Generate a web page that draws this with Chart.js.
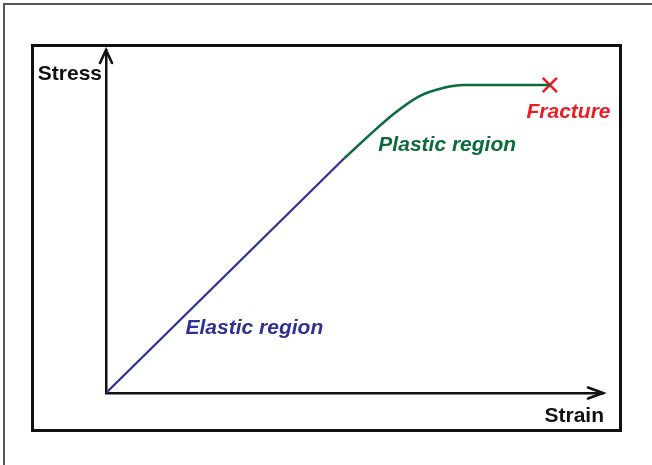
<!DOCTYPE html>
<html>
<head>
<meta charset="utf-8">
<script src="https://cdn.jsdelivr.net/npm/chart.js@4.4.1/dist/chart.umd.min.js"></script>
<style>
  html, body { margin: 0; padding: 0; background: #fff; }
  #page { position: relative; width: 652px; height: 465px; overflow: hidden; }
  #frame { position: absolute; left: 3px; top: 3px; width: 660px; height: 470px;
           border-top: 2px solid #555; border-left: 2px solid #555; }
  #box { position: absolute; left: 31px; top: 44px; width: 591px; height: 388px;
         box-sizing: border-box; border: 3px solid #111; }
  #chart { position: absolute; left: 0; top: 0; }
</style>
</head>
<body>
<div id="page">
  <div id="frame"></div>
  <div id="box"></div>
  <canvas id="chart" width="652" height="465"></canvas>
</div>
<script>
// strain / stress values (arbitrary units)
const elasticStrain = [0, 48];
const elasticStress = [0, 68.5];
const plasticStrain = [48, 54, 58, 63, 68, 72, 89.3];
const plasticStress = [68.5, 76.5, 81.5, 86.5, 89, 89.8, 89.8];
const fractureStrain = [89.3];
const fractureStress = [89.8];

const FONT = '"Liberation Sans", Arial, Helvetica, sans-serif';

function toPoints(xs, ys) {
    return xs.map(function (x, i) { return { x: x, y: ys[i] }; });
}

// arrow heads + text labels
const sketchPlugin = {
    id: 'sketch',
    afterDraw: function (chart) {
        const ctx = chart.ctx;
        const xs = chart.scales.x;
        const ys = chart.scales.y;
        const x0 = xs.getPixelForValue(0);
        const y0 = ys.getPixelForValue(0);
        const xEnd = xs.right;
        const yEnd = ys.top;

        ctx.save();
        ctx.strokeStyle = '#111';
        ctx.lineWidth = 2.6;
        ctx.lineCap = 'round';
        ctx.lineJoin = 'miter';
        // y arrow
        ctx.beginPath();
        ctx.moveTo(x0 - 6, yEnd + 13);
        ctx.lineTo(x0, yEnd);
        ctx.lineTo(x0 + 6, yEnd + 13);
        ctx.stroke();
        // x arrow
        ctx.beginPath();
        ctx.moveTo(xEnd - 15, y0 - 5.5);
        ctx.lineTo(xEnd, y0);
        ctx.lineTo(xEnd - 15, y0 + 5.5);
        ctx.stroke();

        ctx.textBaseline = 'middle';
        ctx.font = 'bold 21px ' + FONT;
        ctx.fillStyle = '#111';
        ctx.textAlign = 'right';
        ctx.fillText('Stress', x0 - 4, yEnd + 24);
        ctx.fillText('Strain', xEnd + 1, y0 + 23);

        ctx.font = 'italic bold 21px ' + FONT;
        ctx.textAlign = 'left';
        ctx.fillStyle = '#2e3192';
        ctx.fillText('Elastic region', xs.getPixelForValue(16), ys.getPixelForValue(19));
        ctx.fillStyle = '#0b6b3a';
        ctx.fillText('Plastic region', xs.getPixelForValue(54.8), ys.getPixelForValue(72.3));
        ctx.fillStyle = '#ec1c24';
        ctx.fillText('Fracture', xs.getPixelForValue(84.6), ys.getPixelForValue(82));
        ctx.restore();
    }
};

const ctx = document.getElementById('chart').getContext('2d');
const stressChart = new Chart(ctx, {
    type: 'scatter',
    data: {
        datasets: [{
            label: 'Elastic region',
            data: toPoints(elasticStrain, elasticStress),
            showLine: true,
            borderColor: '#2e3192',
            borderWidth: 2.2,
            pointRadius: 0
        }, {
            label: 'Plastic region',
            data: toPoints(plasticStrain, plasticStress),
            showLine: true,
            cubicInterpolationMode: 'monotone',
            borderColor: '#0b6b3a',
            borderWidth: 2.6,
            pointRadius: 0
        }, {
            label: 'Fracture',
            data: toPoints(fractureStrain, fractureStress),
            pointStyle: 'crossRot',
            pointRadius: 10,
            borderColor: '#ec1c24',
            borderWidth: 2.6
        }]
    },
    options: {
        responsive: false,
        animation: false,
        layout: {
            padding: { left: 106, top: 50, right: 49, bottom: 72 }
        },
        plugins: {
            legend: { display: false },
            tooltip: { enabled: false }
        },
        scales: {
            x: {
                type: 'linear',
                min: 0,
                max: 100,
                grid: { display: false, drawTicks: false },
                ticks: { display: false },
                border: { display: true, color: '#111', width: 2.5 }
            },
            y: {
                type: 'linear',
                min: 0,
                max: 100,
                grid: { display: false, drawTicks: false },
                ticks: { display: false },
                border: { display: true, color: '#111', width: 2.5 }
            }
        }
    },
    plugins: [sketchPlugin]
});
</script>
</body>
</html>
